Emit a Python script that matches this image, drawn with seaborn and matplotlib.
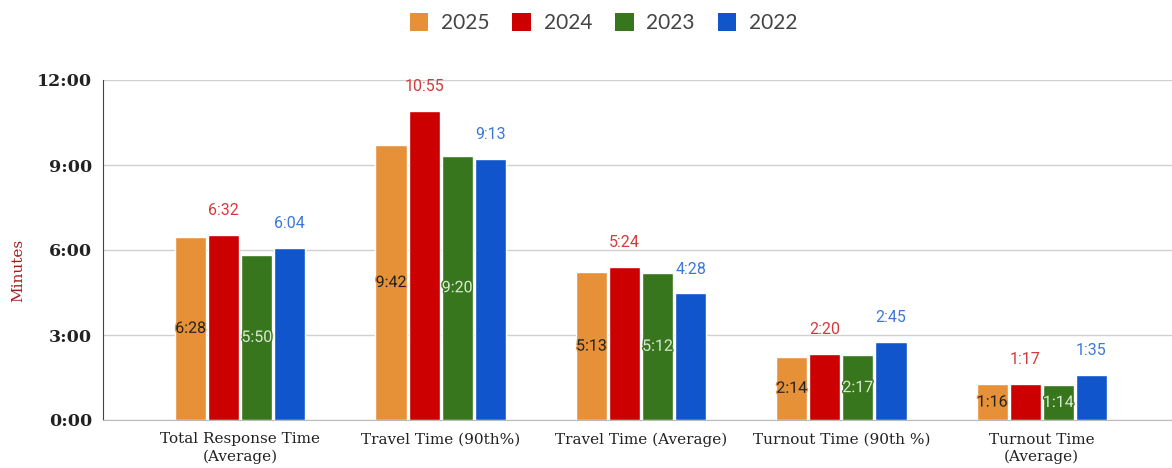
import pandas as pd
import numpy as np
import matplotlib.pyplot as plt
import matplotlib.patheffects as pe
from matplotlib.patches import Patch
import seaborn as sns

# categorias y valores (minutos)
categories = ["Total Response Time\n(Average)", "Travel Time (90th%)", "Travel Time (Average)",
              "Turnout Time (90th %)", "Turnout Time\n(Average)"]
years = ["2025", "2024", "2023", "2022"]
labels_2025 = ["6:28", "9:42", "5:13", "2:14", "1:16"]
labels_2024 = ["6:32", "10:55", "5:24", "2:20", "1:17"]
labels_2023 = ["5:50", "9:20", "5:12", "2:17", "1:14"]
labels_2022 = ["6:04", "9:13", "4:28", "2:45", "1:35"]
colors = ["#e69138", "#cc0000", "#38761d", "#1155cc"]
yticks = [0, 3, 6, 9, 12]
ytick_labels = ["0:00", "3:00", "6:00", "9:00", "12:00"]


def to_min(s):
    m, sec = s.split(":")
    return int(m) + int(sec) / 60


all_labels = [labels_2025, labels_2024, labels_2023, labels_2022]
rows = []
for year, labs in zip(years, all_labels):
    for cat, lab in zip(categories, labs):
        rows.append({"category": cat, "year": year, "minutes": to_min(lab)})
df = pd.DataFrame(rows)

sns.set_style("white")
fig = plt.figure(figsize=(11.72, 4.68), dpi=100)
ax = fig.add_axes([103 / 1172, 48 / 468, 1069 / 1172, 340 / 468])

sns.barplot(data=df, x="category", y="minutes", hue="year", hue_order=years,
            palette=colors, width=0.66, gap=0.06, saturation=1, ax=ax, legend=False)

ax.set_xlim(-0.685, 4.65)
ax.set_ylim(0, 12)
ax.set_yticks(yticks)
ax.set_yticklabels(ytick_labels, family="DejaVu Serif", fontweight="bold", fontsize=12.5, color="#222222")
ax.set_xticks(range(len(categories)))
ax.set_xticklabels(categories, family="DejaVu Serif", fontsize=11, color="#222222", linespacing=1.3)
ax.tick_params(axis="x", length=0, pad=9)
ax.tick_params(axis="y", length=0, pad=8)
ax.grid(axis="y", color="#d0d0d0", linewidth=1)
ax.set_axisbelow(True)
for s in ["top", "right"]:
    ax.spines[s].set_visible(False)
ax.spines["left"].set_color("#444444")
ax.spines["bottom"].set_color("#bbbbbb")
ax.set_xlabel("")
ax.set_ylabel("Minutes", family="DejaVu Serif", fontsize=11, color="#a61c1c")
ax.yaxis.set_label_coords(-0.073, 0.44)

# etiquetas de datos
conts = ax.containers
ax.bar_label(conts[0], labels=labels_2025, label_type="center", fontsize=11.5, family="Roboto",
             color="#222222", path_effects=[pe.withStroke(linewidth=2, foreground="#e69138")])
ax.bar_label(conts[1], labels=labels_2024, padding=12, fontsize=11.5, family="Roboto", color="#d23b3b")
ax.bar_label(conts[2], labels=labels_2023, label_type="center", fontsize=11.5, family="Roboto",
             color="#d9ead3", path_effects=[pe.withStroke(linewidth=2, foreground="#38761d")])
ax.bar_label(conts[3], labels=labels_2022, padding=12, fontsize=11.5, family="Roboto", color="#3c78d8")

handles = [Patch(facecolor=c, edgecolor="none") for c in colors]
fig.legend(handles, years, loc="upper center", bbox_to_anchor=(0.515, 1.012), ncol=4, frameon=False,
           handlelength=0.9, handleheight=0.9, handletextpad=0.6, columnspacing=1.1,
           prop={"family": "Lato", "size": 15}, labelcolor="#444444")

plt.savefig("out.png", dpi=100)
